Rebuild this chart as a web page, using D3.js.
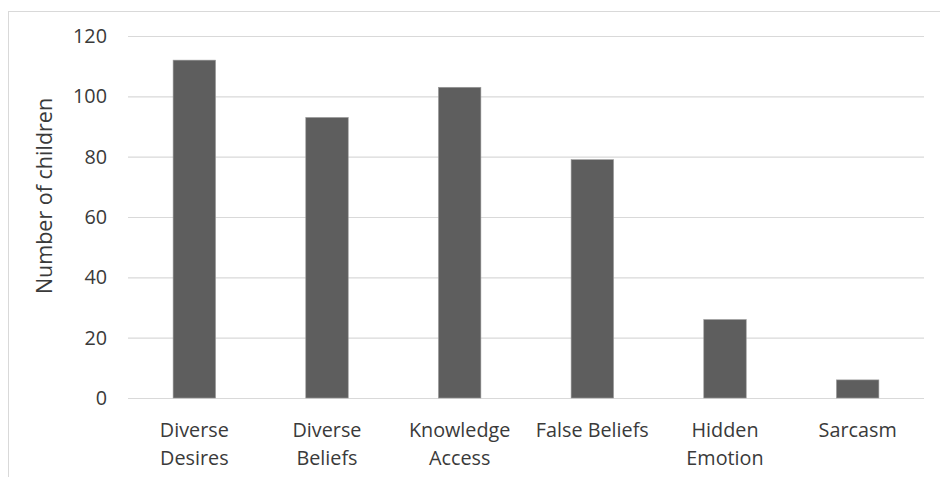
<!DOCTYPE html>
<html>
<head>
<meta charset="utf-8">
<script src="https://cdn.jsdelivr.net/npm/d3@7"></script>
<style>
  html, body { margin: 0; padding: 0; background: #fff; }
  svg { display: block; }
</style>
</head>
<body>
<svg id="chart" width="940" height="477"></svg>
<script>
const categories = [["Diverse", "Desires"], ["Diverse", "Beliefs"], ["Knowledge", "Access"], ["False Beliefs"], ["Hidden", "Emotion"], ["Sarcasm"]];
const values = [112, 93, 103, 79, 26, 6];
const yTicks = [0, 20, 40, 60, 80, 100, 120];
const yTitle = "Number of children";

const svg = d3.select("#chart");
const W = 940, H = 477;
const margin = { left: 128, right: 16, top: 36, bottom: 79 };
const font = "'Open Sans', sans-serif";
const textColor = "#3a3a3a";
const fs = 19.8;

// chart border
svg.append("rect")
  .attr("x", 8.5).attr("y", 11.5)
  .attr("width", W + 10).attr("height", H + 10)
  .attr("fill", "none").attr("stroke", "#d9d9d9").attr("stroke-width", 1);

const x = d3.scaleBand()
  .domain(d3.range(categories.length))
  .range([margin.left, W - margin.right])
  .paddingInner(0.68).paddingOuter(0.34);

const y = d3.scaleLinear().domain([0, 120]).range([H - margin.bottom, margin.top]);

// gridlines
const grid = svg.append("g")
  .attr("transform", `translate(${margin.left},0)`)
  .call(d3.axisLeft(y).tickValues(yTicks).tickSize(-(W - margin.right - margin.left)).tickFormat(""));
grid.select(".domain").remove();
grid.selectAll("line").attr("stroke", "#d9d9d9").attr("stroke-width", 1.2);

// y tick labels
const yAxis = svg.append("g")
  .attr("transform", `translate(${margin.left - 21},0)`)
  .call(d3.axisLeft(y).tickValues(yTicks).tickSize(0).tickPadding(0));
yAxis.select(".domain").remove();
yAxis.selectAll("text")
  .attr("font-family", font).attr("font-size", fs).attr("fill", textColor);

// bars
svg.append("g").selectAll("rect")
  .data(values)
  .join("rect")
  .attr("x", (d, i) => x(i))
  .attr("y", d => y(d))
  .attr("width", x.bandwidth())
  .attr("height", d => y(0) - y(d))
  .attr("fill", "#5e5e5e")
  .attr("stroke", "#9a9a9a")
  .attr("stroke-width", 0.6);

// x labels
const xl = svg.append("g");
categories.forEach((lines, i) => {
  const t = xl.append("text")
    .attr("x", x(i) + x.bandwidth() / 2)
    .attr("y", 437)
    .attr("text-anchor", "middle")
    .attr("font-family", font).attr("font-size", fs).attr("fill", textColor);
  lines.forEach((ln, j) => {
    t.append("tspan").attr("x", x(i) + x.bandwidth() / 2).attr("dy", j === 0 ? 0 : 27.5).text(ln);
  });
});

// y title
svg.append("text")
  .attr("transform", `translate(52,196) rotate(-90)`)
  .attr("text-anchor", "middle")
  .attr("font-family", font).attr("font-size", 21.5).attr("fill", textColor)
  .text(yTitle);
</script>
</body>
</html>
